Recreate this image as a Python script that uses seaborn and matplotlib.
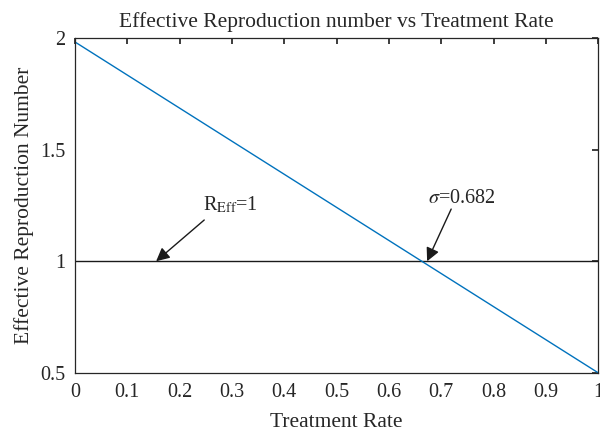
import numpy as np
import pandas as pd
import matplotlib
matplotlib.use('Agg')
import matplotlib.pyplot as plt
import seaborn as sns

# data
treatment_rate = [0.0, 1.0]
r_eff = [1.983, 0.5]
threshold_x = [0.0, 1.0]
threshold_y = [1.0, 1.0]
x_ticks = [0, 0.1, 0.2, 0.3, 0.4, 0.5, 0.6, 0.7, 0.8, 0.9, 1]
x_tick_labels = ['0', '0.1', '0.2', '0.3', '0.4', '0.5', '0.6', '0.7', '0.8', '0.9', '1']
y_ticks = [0.5, 1, 1.5, 2]
y_tick_labels = ['0.5', '1', '1.5', '2']

sns.set_theme(style='white')
plt.rcParams['font.family'] = ['Liberation Serif', 'DejaVu Serif']
plt.rcParams['mathtext.fontset'] = 'stix'

df = pd.DataFrame({'rate': treatment_rate, 'reff': r_eff})
df_th = pd.DataFrame({'rate': threshold_x, 'reff': threshold_y})

fig, ax = plt.subplots(figsize=(6, 4.34), dpi=100)
sns.lineplot(data=df_th, x='rate', y='reff', color='#1a1a1a', lw=1.0, ax=ax)
sns.lineplot(data=df, x='rate', y='reff', color='#0072BD', lw=1.0, ax=ax)

ax.set_xlim(0, 1)
ax.set_ylim(0.5, 2)
ax.set_xticks(x_ticks)
ax.set_xticklabels(x_tick_labels)
ax.set_yticks(y_ticks)
ax.set_yticklabels(y_tick_labels)
ax.tick_params(direction='in', length=4, top=True, right=True, labelsize=14.5,
               colors='#262626', pad=7)
for s in ax.spines.values():
    s.set_color('#262626')
    s.set_linewidth(0.9)

ax.set_title('Effective Reproduction number vs Treatment Rate', fontsize=15.5,
             pad=8, color='#262626')
ax.set_xlabel('Treatment Rate', fontsize=15.5, labelpad=8, color='#262626')
ax.set_ylabel('Effective Reproduction Number', fontsize=15.5, labelpad=4,
              color='#262626')

arrow = dict(arrowstyle='-|>', color='#1a1a1a', lw=1.0, mutation_scale=20,
             shrinkA=0, shrinkB=0)
# R_Eff = 1 annotation
ax.annotate('', xy=(0.155, 1.0), xytext=(0.247, 1.185), arrowprops=arrow)
ax.text(0.245, 1.23, r'R$_{\mathrm{Eff}}$=1', fontsize=14.5, ha='left',
        va='baseline', color='#262626')
# sigma annotation
ax.annotate('', xy=(0.673, 1.0), xytext=(0.719, 1.234), arrowprops=arrow)
ax.text(0.675, 1.261, r'$\sigma$=0.682', fontsize=14.5, ha='left',
        va='baseline', color='#262626')

plt.subplots_adjust(left=0.125, right=0.997, top=0.912, bottom=0.141)
plt.savefig('out.png', dpi=100)
plt.close()
